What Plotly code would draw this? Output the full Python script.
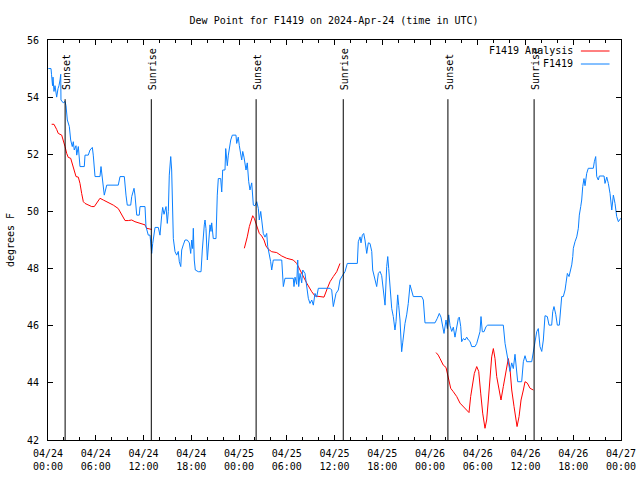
import pandas as pd
import plotly.graph_objects as go

# ---------------- data ----------------
start = "2024-04-24 00:00"

# F1419 observations: hours since start, dew point (F)
obs_hours = [0.04, 0.38, 0.44, 0.57, 0.63, 0.75, 0.88, 1.09, 1.26, 1.38, 1.51, 1.60, 1.63, 1.92, 2.14,
             2.26, 2.43, 2.68, 2.85, 3.05, 3.18, 3.30, 3.52, 3.61, 3.81, 4.02, 4.56, 4.65, 5.06, 5.28,
             5.57, 5.69, 5.91, 6.53, 6.66, 6.87, 7.07, 7.38, 8.83, 9.05, 9.59, 9.80, 9.96, 10.39, 10.52,
             10.81, 10.93, 11.15, 11.47, 11.56, 12.19, 12.31, 12.60, 12.82, 13.03, 13.16, 13.23, 13.45,
             13.86, 14.07, 14.29, 14.41, 14.58, 14.83, 14.99, 15.12, 15.24, 15.42, 15.54, 15.62, 15.75,
             15.96, 16.17, 16.37, 16.50, 16.68, 16.80, 17.00, 17.22, 17.50, 17.76, 17.93, 18.06, 18.18,
             18.26, 18.38, 18.51, 18.89, 19.23, 19.39, 19.52, 19.64, 19.73, 19.85, 20.02, 20.14, 20.36,
             20.48, 20.57, 20.77, 21.11, 21.27, 21.40, 21.70, 21.83, 21.95, 22.24, 22.33, 22.53, 22.66,
             22.78, 22.96, 23.16, 23.62, 23.71, 23.91, 24.04, 24.21, 24.34, 24.47, 24.63, 24.88, 25.04,
             25.22, 25.38, 25.60, 25.80, 26.01, 26.23, 26.43, 26.55, 26.73, 26.85, 27.05, 27.27, 27.48,
             27.61, 27.81, 27.98, 28.11, 28.31, 29.37, 29.49, 29.57, 29.78, 30.82, 30.91, 31.04, 31.25,
             31.38, 31.50, 31.67, 31.88, 32.01, 32.29, 32.51, 32.71, 32.92, 33.14, 33.34, 33.55, 33.76,
             33.97, 35.44, 35.65, 35.85, 35.98, 36.19, 36.48, 36.69, 37.03, 37.32, 37.61, 38.87, 38.99,
             39.21, 39.33, 39.50, 39.67, 39.83, 40.05, 40.25, 40.46, 40.68, 40.80, 41.09, 41.30, 41.51,
             41.72, 41.93, 42.06, 42.22, 42.35, 42.56, 42.69, 42.81, 42.98, 43.19, 43.39, 43.60, 43.73,
             43.82, 43.94, 44.07, 44.23, 44.36, 44.44, 44.57, 44.73, 44.86, 45.07, 45.27, 45.49, 45.70,
             45.90, 46.96, 47.16, 47.37, 48.63, 48.92, 49.17, 49.38, 49.60, 49.76, 50.01, 50.18, 50.35,
             50.52, 50.73, 50.93, 51.14, 51.36, 51.56, 51.68, 51.86, 51.98, 52.19, 52.40, 52.61, 52.82,
             53.03, 53.24, 53.66, 53.87, 54.07, 54.28, 54.41, 54.57, 54.79, 55.04, 55.25, 57.21, 57.43,
             57.64, 57.84, 58.05, 58.27, 58.47, 58.68, 58.90, 59.02, 59.52, 59.73, 59.94, 60.15, 60.78,
             60.98, 61.20, 61.41, 61.61, 61.82, 62.04, 62.24, 62.45, 62.74, 62.96, 63.29, 63.42, 63.58,
             63.80, 64.00, 64.25, 64.43, 64.55, 64.75, 64.97, 65.09, 65.26, 65.47, 65.60, 65.81, 65.94,
             66.01, 66.22, 66.44, 66.64, 66.76, 66.94, 67.06, 67.19, 67.35, 67.48, 67.69, 67.89, 68.52,
             68.65, 68.82, 68.95, 69.15, 69.28, 69.87, 69.99, 70.21, 70.41, 70.62, 70.84, 71.04, 71.25,
             71.46, 71.67, 71.97]
obs_dewpt = [55.0, 55.0, 54.8, 54.4, 54.7, 54.2, 54.4, 54.0, 54.3, 54.4, 54.6, 54.8, 53.9, 53.8, 53.85,
             53.7, 53.2, 52.97, 52.5, 52.27, 52.44, 52.15, 52.3, 51.97, 52.27, 51.57, 51.57, 51.97, 51.97, 52.15,
             52.24, 51.97, 51.22, 51.22, 51.57, 51.1, 50.57, 50.92, 50.92, 51.22, 51.22, 50.57, 50.22, 50.22, 50.52,
             50.81, 50.57, 49.87, 49.87, 50.17, 50.17, 49.47, 49.17, 49.17, 48.53, 48.88, 49.0, 49.44,
             49.44, 49.17, 49.87, 50.14, 49.9, 50.17, 49.58, 50.0, 51.27, 51.92, 51.45, 50.57, 49.05,
             48.59, 48.47, 48.6, 48.24, 48.07, 48.65, 48.83, 49.0, 49.0, 48.9, 48.53, 49.0, 48.7,
             49.41, 48.3, 47.95, 47.89, 47.89, 48.65, 49.23, 49.53, 49.7, 49.4, 48.3, 48.8, 49.53,
             49.3, 49.6, 49.05, 49.05, 50.57, 51.15, 51.15, 50.68, 51.45, 51.45, 52.2, 51.6, 51.97,
             52.27, 52.5, 52.67, 52.67, 52.38, 52.6, 52.3, 52.03, 51.8, 52.1, 51.9, 51.45, 51.7,
             51.04, 50.75, 51.0, 50.22, 50.2, 50.34, 50.1, 49.7, 50.0, 49.7, 49.23, 49.1, 49.23,
             48.77, 48.53, 48.24, 47.95, 48.3, 48.3, 47.83, 47.37, 47.66, 47.66, 47.37, 47.7, 47.45,
             48.3, 47.37, 47.83, 47.5, 47.95, 47.83, 47.25, 46.96, 46.78, 46.9, 46.72, 47.13, 47.0,
             47.31, 47.31, 47.25, 46.67, 46.85, 47.13, 47.25, 47.6, 47.77, 47.89, 48.18, 48.18, 48.94,
             49.11, 48.9, 49.17, 49.23, 49.0, 48.53, 48.9, 48.88, 48.6, 47.95, 47.66, 47.37, 47.83,
             47.9, 47.75, 47.4, 47.02, 46.72, 48.07, 48.42, 48.0, 47.19, 46.6, 46.32, 45.85, 46.14,
             46.7, 47.08, 46.7, 46.2, 45.5, 45.09, 45.4, 45.85, 46.08, 46.38, 46.78, 47.43, 47.25,
             47.02, 47.02, 46.9, 46.1, 46.1, 46.26, 46.43, 46.3, 45.95, 45.73, 46.2, 45.9, 46.38,
             46.0, 45.8, 45.95, 45.6, 45.95, 46.26, 46.3, 45.97, 45.44, 45.55, 45.5, 45.6, 45.5,
             45.45, 45.27, 45.27, 45.38, 45.56, 45.79, 46.32, 45.79, 45.79, 45.97, 46.02, 46.02, 45.38,
             45.03, 44.74, 44.4, 44.7, 44.5, 45.0, 44.5, 44.04, 44.04, 44.74, 44.95, 44.74, 44.74,
             45.09, 45.5, 45.79, 45.9, 45.27, 45.1, 45.5, 46.35, 46.32, 46.02, 46.02, 46.49, 46.67,
             46.4, 46.02, 46.02, 46.78, 47.02, 47.02, 47.25, 47.49, 47.83, 47.72, 47.85, 48.13, 48.42,
             48.71, 48.94, 49.11, 49.41, 49.87, 50.17, 50.4, 50.87, 51.15, 50.9, 51.33, 51.51, 51.51,
             51.74, 51.92, 51.22, 51.1, 51.24, 51.24, 50.98, 51.2, 50.98, 50.63, 50.05, 50.57, 50.28,
             49.82, 49.64, 49.76]

# F1419 Analysis (three separate runs, None = gap)
ana_hours = [0.46, 0.75, 1.09, 1.29, 1.72, 1.92, 2.14, 2.35, 2.55, 2.85, 3.10, 3.30, 3.52, 3.81, 4.02,
             4.23, 4.44, 4.65, 5.06, 5.49, 5.82, 6.12, 6.53, 6.95, 7.38, 7.79, 8.21, 8.83, 9.26, 9.68,
             10.09, 10.52, 10.93, 11.35, 11.77, 12.19, 12.40, 12.82, 13.03, None,
             24.67, 24.88, 25.04, 25.30, 25.51, 25.72, 25.92, 26.14, 26.30, 26.55, 26.85, 27.14, 27.39,
             27.68, 28.11, 28.74, 29.37, 29.99, 30.82, 31.25, 31.67, 32.08, 32.51, 33.14, 33.55, 34.18,
             34.68, 35.10, 35.44, 35.85, 36.28, 36.69, None,
             48.76, 49.04, 49.26, 49.67, 50.01, 50.30, 50.60, 50.93, 51.36, 51.77, 52.19, 52.61, 52.90,
             53.11, 53.37, 53.57, 53.87, 54.12, 54.37, 54.62, 54.91, 55.12, 55.33, 55.54, 55.75, 55.96,
             56.17, 56.38, 56.67, 56.92, 57.21, 57.43, 57.64, 57.84, 58.05, 58.27, 58.56, 58.77, 58.94,
             59.19, 59.44, 59.73, 59.94, 60.23, 60.57, 60.98]
ana_dewpt = [53.05, 53.05, 52.87, 52.73, 52.67, 52.5, 52.27, 52.03, 51.89, 51.86, 51.63, 51.45, 51.22, 51.2, 50.98,
             50.63, 50.34, 50.28, 50.22, 50.17, 50.17, 50.28, 50.46, 50.4, 50.34, 50.28, 50.22, 50.1, 49.87, 49.68,
             49.68, 49.7, 49.64, 49.6, 49.56, 49.53, 49.41, 49.37, 49.37, None,
             48.71, 48.9, 49.11, 49.47, 49.7, 49.85, 49.76, 49.58, 49.41, 49.23, 49.14, 49.0, 48.79,
             48.68, 48.59, 48.56, 48.44, 48.36, 48.3, 48.18, 47.95, 47.72, 47.49, 47.19, 47.04, 47.02,
             47.0, 47.31, 47.54, 47.72, 47.89, 48.18, None,
             45.06, 44.97, 44.85, 44.62, 44.54, 44.22, 43.81, 43.69, 43.52, 43.29, 43.17, 43.05, 42.96,
             43.52, 43.99, 44.33, 44.57, 44.4, 43.64, 42.94, 42.41, 42.7, 43.4, 44.22, 44.91, 45.2,
             44.85, 44.22, 43.75, 43.4, 43.87, 44.27, 44.62, 44.85, 44.5, 43.75, 43.17, 42.7, 42.47,
             42.82, 43.4, 43.75, 44.04, 43.99, 43.81, 43.75]

sun_events = ["Sunset", "Sunrise", "Sunset", "Sunrise", "Sunset", "Sunrise"]
sun_hours = [2.15, 12.98, 26.15, 37.1, 50.25, 61.08]

tick_hours = [0, 6, 12, 18, 24, 30, 36, 42, 48, 54, 60, 66, 72]
tick_text = ["04/24<br>00:00", "04/24<br>06:00", "04/24<br>12:00", "04/24<br>18:00",
             "04/25<br>00:00", "04/25<br>06:00", "04/25<br>12:00", "04/25<br>18:00",
             "04/26<br>00:00", "04/26<br>06:00", "04/26<br>12:00", "04/26<br>18:00",
             "04/27<br>00:00"]
y_ticks = [42, 44, 46, 48, 50, 52, 54, 56]

# ---------------- figure ----------------
base = pd.Timestamp(start)


def to_time(hs):
    return [None if h is None else base + pd.Timedelta(hours=h) for h in hs]


FONT = "DejaVu Sans Mono"
RED = "#ff0000"
BLUE = "#0a80ff"

fig = go.Figure()
fig.add_trace(go.Scatter(x=to_time(ana_hours), y=ana_dewpt, mode="lines",
                         line=dict(color=RED, width=1), connectgaps=False,
                         name="F1419 Analysis", showlegend=False))
fig.add_trace(go.Scatter(x=to_time(obs_hours), y=obs_dewpt, mode="lines",
                         line=dict(color=BLUE, width=1),
                         name="F1419", showlegend=False))

for name, h in zip(sun_events, sun_hours):
    t = base + pd.Timedelta(hours=h)
    fig.add_shape(type="line", xref="x", yref="paper", x0=t, x1=t, y0=0, y1=0.852,
                  line=dict(color="black", width=1))
    fig.add_annotation(x=t, xref="x", y=0.87, yref="paper", text=name, textangle=-90,
                       showarrow=False, xanchor="center", yanchor="bottom", xshift=1,
                       font=dict(family=FONT, size=10, color="black"))

# gnuplot-style legend (text right, sample on the right)
for i, (lab, col) in enumerate([("F1419 Analysis", RED), ("F1419", BLUE)]):
    yp = 0.9725 - i * 0.0325
    fig.add_annotation(x=0.919, xref="paper", y=yp, yref="paper", text=lab, showarrow=False,
                       xanchor="right", yanchor="middle", font=dict(family=FONT, size=10, color="black"))
    fig.add_shape(type="line", xref="paper", yref="paper", x0=0.93, x1=0.98, y0=yp, y1=yp,
                  line=dict(color=col, width=1))

fig.update_layout(
    width=640, height=480,
    margin=dict(l=48, r=19, t=40, b=40),
    paper_bgcolor="white", plot_bgcolor="white",
    font=dict(family=FONT, size=10, color="black"),
    title=dict(text="Dew Point for F1419 on 2024-Apr-24 (time in UTC)", x=0.522, xanchor="center",
               y=0.958, yanchor="middle", font=dict(family=FONT, size=10, color="black")),
    showlegend=False,
)
fig.update_xaxes(
    type="date", automargin=False,
    range=[base, base + pd.Timedelta(hours=72)],
    tickvals=to_time(tick_hours), ticktext=tick_text,
    ticks="inside", ticklen=5, tickcolor="black", tickwidth=1,
    minor=dict(dtick=2 * 3600 * 1000, ticks="inside", ticklen=3, tickcolor="black", showgrid=False),
    showline=True, linecolor="black", linewidth=1, mirror="allticks",
    showgrid=False, zeroline=False, tickfont=dict(family=FONT, size=10),
    ticklabelstandoff=4,
)
fig.update_yaxes(
    automargin=False,
    range=[42, 56], tickvals=y_ticks,
    ticks="inside", ticklen=5, tickcolor="black", tickwidth=1,
    showline=True, linecolor="black", linewidth=1, mirror="allticks",
    showgrid=False, zeroline=False, tickfont=dict(family=FONT, size=10),
    ticklabelstandoff=6,
    title=dict(text="degrees F", standoff=10, font=dict(family=FONT, size=10)),
)

fig.write_html("out.html", config={"displayModeBar": False},
               post_script="document.body.style.margin='0';")
